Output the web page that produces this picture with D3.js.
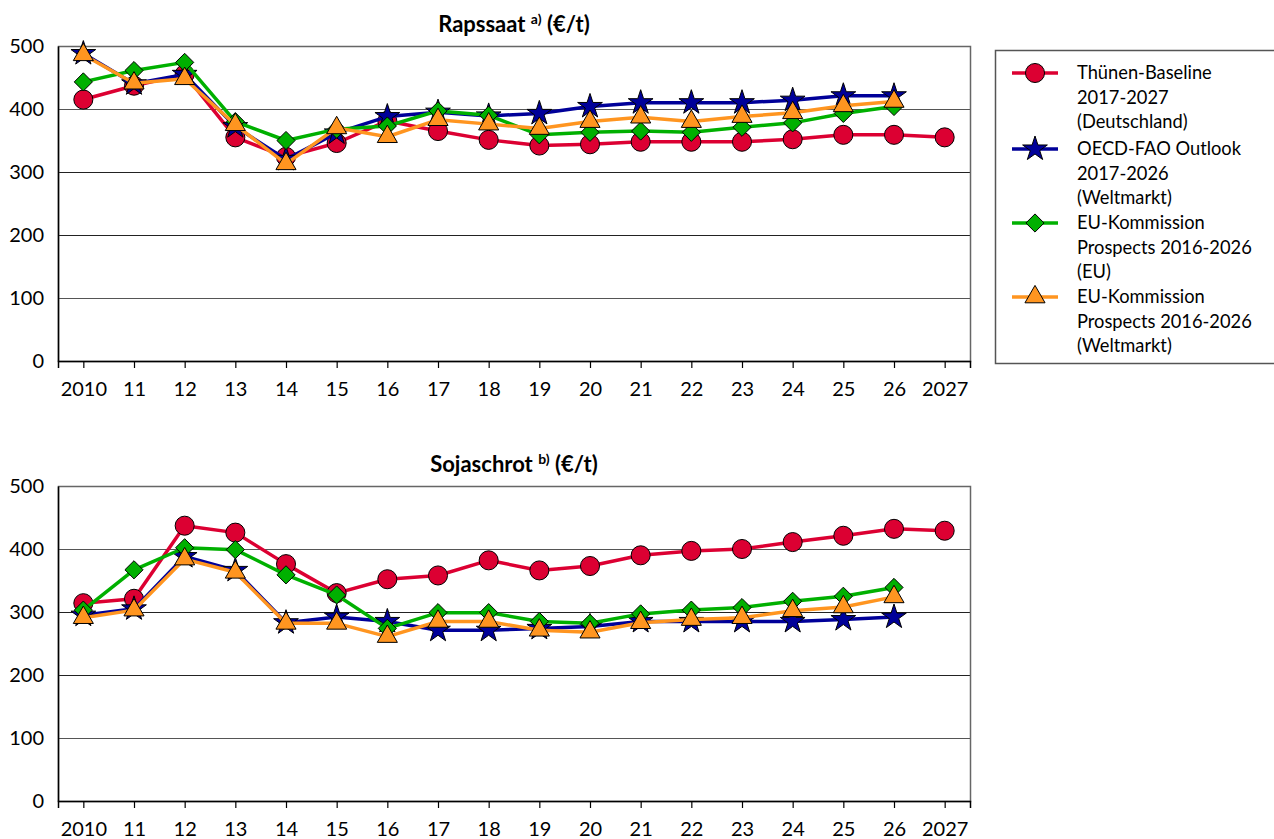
<!DOCTYPE html>
<html><head><meta charset="utf-8">
<script src="https://cdn.jsdelivr.net/npm/d3@7"></script>
<style>body{margin:0;background:#fff;font-family:Lato,"Open Sans",sans-serif;}</style>
</head><body>
<svg id="c" width="1274" height="839"></svg>
<script>
const years = ["2010","11","12","13","14","15","16","17","18","19","20","21","22","23","24","25","26","2027"];
const yTicks = [0,100,200,300,400,500];

const rapsThuenen = [415,437,455,355,324,346,381,365,351,342,344,348,348,348,352,359,359,355];
const rapsOECD    = [488,440,455,372,320,362,388,395,389,393,404,410,410,410,414,421,421,null];
const rapsEU      = [443,461,474,380,350,368,373,397,390,359,363,365,363,371,378,393,404,null];
const rapsWelt    = [486,441,448,375,313,370,356,383,376,369,380,387,380,388,394,405,412,null];

const sojaThuenen = [314,321,437,426,376,330,352,358,382,366,373,390,397,400,411,421,432,429];
const sojaOECD    = [295,305,388,366,283,292,285,271,271,274,277,285,285,285,285,288,292,null];
const sojaEU      = [303,367,402,399,359,327,274,299,299,285,282,297,303,307,317,325,339,null];
const sojaWelt    = [291,303,384,363,282,282,261,285,285,271,268,283,288,291,302,308,324,null];

const seriesNames = [
  ["Thünen-Baseline","2017-2027","(Deutschland)"],
  ["OECD-FAO Outlook","2017-2026","(Weltmarkt)"],
  ["EU-Kommission","Prospects 2016-2026","(EU)"],
  ["EU-Kommission","Prospects 2016-2026","(Weltmarkt)"]
];
const colors = ["#DC0032","#000099","#00B000","#FF9520"];

const wideDiamond = { draw(ctx, size){ const r = Math.sqrt(size/2); ctx.moveTo(0,-r); ctx.lineTo(r,0); ctx.lineTo(0,r); ctx.lineTo(-r,0); ctx.closePath(); } };
const shapes = [d3.symbolCircle, d3.symbolStar, wideDiamond, d3.symbolTriangle];
const sizes = [285, 190, 165, 175];

const svg = d3.select("#c");

function drawChart(top, title, sup, data) {
  const x = d3.scalePoint().domain(years).range([58, 970]).padding(0.5);
  const y = d3.scaleLinear().domain([0,500]).range([top+315, top]);
  const g = svg.append("g");
  g.selectAll(".grid").data(yTicks.filter(v=>v>0 && v<500)).join("line")
    .attr("x1",58).attr("x2",970).attr("y1",d=>y(d)+0.5).attr("y2",d=>y(d)+0.5)
    .attr("stroke",d=> (d===400||d===100) ? "#555" : "#222").attr("stroke-width",1);
  g.append("rect").attr("x",58.5).attr("y",top+0.5).attr("width",912).attr("height",315)
    .attr("fill","none").attr("stroke","#666").attr("stroke-width",1.5);
  const xa = g.append("g").attr("transform",`translate(0,${top+315})`)
    .call(d3.axisBottom(x).tickSize(7).tickPadding(14));
  xa.select(".domain").attr("stroke","#000").attr("stroke-width",1.5);
  xa.selectAll("line").attr("stroke","#000").attr("stroke-width",1.2);
  xa.selectAll("text").attr("font-family","Lato, sans-serif").attr("font-size",20).attr("fill","#000");
  const ya = g.append("g").attr("transform",`translate(58,0)`)
    .call(d3.axisLeft(y).tickValues(yTicks).tickSize(0).tickPadding(14));
  ya.select(".domain").attr("stroke","#000").attr("stroke-width",1.5);
  ya.selectAll("text").attr("font-family","Lato, sans-serif").attr("font-size",20).attr("fill","#000");
  const t = g.append("text").attr("x",514).attr("y",top-14).attr("text-anchor","middle")
    .attr("font-family","Lato, sans-serif").attr("font-weight","bold").attr("font-size",22).attr("fill","#000");
  t.append("tspan").text(title+" ");
  t.append("tspan").text(sup).attr("font-size",14).attr("dy",-8);
  t.append("tspan").text(" (€/t)").attr("dy",8);

  data.forEach((vals,i)=>{
    const pts = years.map((yr,j)=>({yr, v: vals[j]})).filter(d=>d.v!=null);
    const line = d3.line().x(d=>x(d.yr)).y(d=>y(d.v));
    g.append("path").datum(pts).attr("d",line).attr("fill","none")
      .attr("stroke",colors[i]).attr("stroke-width",3.5).attr("stroke-linejoin","round");
    g.selectAll(null).data(pts).join("path")
      .attr("d",d3.symbol().type(shapes[i]).size(sizes[i]))
      .attr("transform",d=>`translate(${x(d.yr)},${y(d.v)})`)
      .attr("fill",colors[i]).attr("stroke","#000").attr("stroke-width",1);
  });
}

drawChart(46, "Rapssaat", "a)", [rapsThuenen, rapsOECD, rapsEU, rapsWelt]);
drawChart(486, "Sojaschrot", "b)", [sojaThuenen, sojaOECD, sojaEU, sojaWelt]);

const lg = svg.append("g");
lg.append("rect").attr("x",995.5).attr("y",50.5).attr("width",290).attr("height",313)
  .attr("fill","#fff").attr("stroke","#555").attr("stroke-width",1.5);
const groupY = [73,149,223,297];
seriesNames.forEach((lines,i)=>{
  const gy = groupY[i];
  lg.append("line").attr("x1",1012).attr("x2",1058).attr("y1",gy).attr("y2",gy)
    .attr("stroke",colors[i]).attr("stroke-width",3.5);
  lg.append("path").attr("d",d3.symbol().type(shapes[i]).size(sizes[i]))
    .attr("transform",`translate(1035,${gy})`).attr("fill",colors[i]).attr("stroke","#000").attr("stroke-width",1);
  lines.forEach((txt,k)=>{
    lg.append("text").attr("x",1077).attr("y",gy+k*24.5).attr("dy","0.35em")
      .attr("font-family","Lato, sans-serif").attr("font-size",18.3).attr("fill","#000").text(txt);
  });
});
</script>
</body></html>
